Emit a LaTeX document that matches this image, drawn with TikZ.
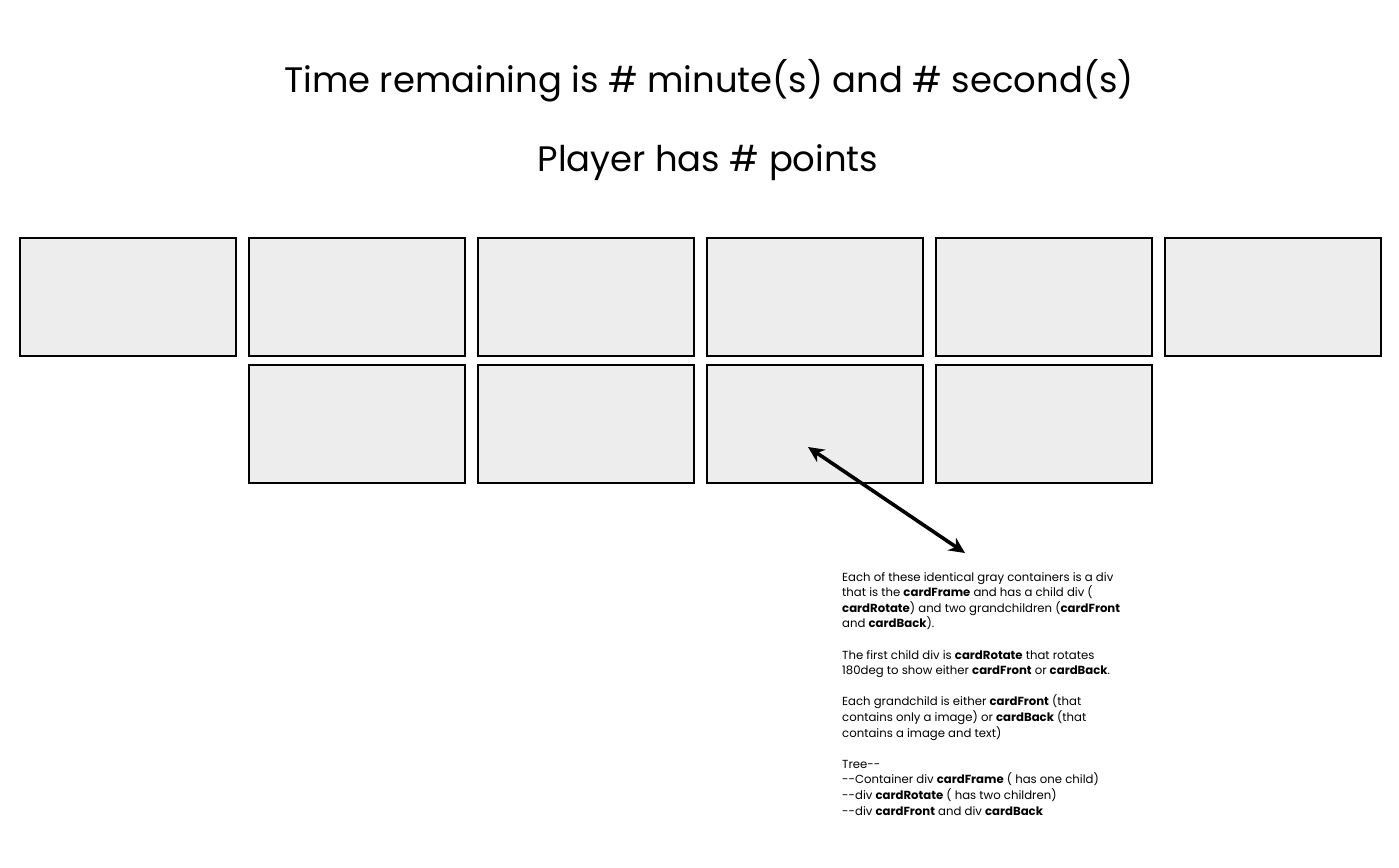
\documentclass[tikz,border=0pt]{standalone}
\usepackage{fontspec}
\setmainfont{Poppins}
\usetikzlibrary{arrows.meta}
\begin{document}
\begin{tikzpicture}[x=1pt,y=-1pt,
  card/.style={draw=black,line width=1.8pt,fill=black!7,minimum width=216pt,minimum height=118pt,inner sep=0pt,anchor=north west},
  title/.style={font=\fontsize{35.4}{38}\selectfont,anchor=center},
  note/.style={font=\fontsize{11.7}{15.6}\selectfont,align=left,anchor=north west,inner sep=0pt}]
\useasboundingbox (0,0) rectangle (1399,867);
\node[title] (t1) at (709,81) {Time remaining is \# minute(s) and \# second(s)};
\node[title] (t2) at (708,163) {Player has \# points};
\foreach \i/\x in {1/19,2/248,3/477,4/706,5/935,6/1164}{
  \node[card] (a\i) at (\x,237) {};
}
\foreach \i/\x in {1/248,2/477,3/706,4/935}{
  \node[card] (b\i) at (\x,364) {};
}
\coordinate (p1) at (808,447);
\coordinate (p2) at (965,553);
\draw[line width=3.6pt,{Stealth[length=16pt,width=15pt]}-{Stealth[length=16pt,width=15pt]}] (p1) -- (p2);
\node[note] (n) at (842,572) {Each of these identical gray containers is a div\\
that is the \textbf{cardFrame} and has a child div (\\
\textbf{cardRotate}) and two grandchildren (\textbf{cardFront}\\
and \textbf{cardBack}).\\[15.6pt]
The first child div is \textbf{cardRotate} that rotates\\
180deg to show either \textbf{cardFront} or \textbf{cardBack}.\\[15.6pt]
Each grandchild is either \textbf{cardFront} (that\\
contains only a image) or \textbf{cardBack} (that\\
contains a image and text)\\[15.6pt]
Tree-{}-\\
-{}-Container div \textbf{cardFrame} ( has one child)\\
-{}-div \textbf{cardRotate} ( has two children)\\
-{}-div \textbf{cardFront} and div \textbf{cardBack}};
\end{tikzpicture}
\end{document}
